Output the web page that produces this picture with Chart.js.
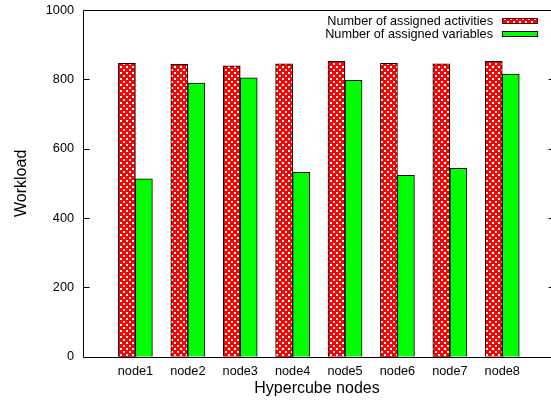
<!DOCTYPE html>
<html><head><meta charset="utf-8">
<script src="https://cdn.jsdelivr.net/npm/chart.js@4/dist/chart.umd.min.js"></script>
<style>html,body{margin:0;padding:0;overflow:hidden;background:#fff;width:551px;height:400px}canvas{display:block}</style>
</head><body>
<canvas id="c" width="551" height="400"></canvas>
<script>
const categories = ['node1','node2','node3','node4','node5','node6','node7','node8'];
const activities = [846, 843, 839, 845, 852, 846, 845, 852];
const variables  = [513, 789, 804, 532, 797, 523, 543, 815];
const yTicks = [0, 200, 400, 600, 800, 1000];
const seriesNames = ['Number of assigned activities', 'Number of assigned variables'];
const xTitle = 'Hypercube nodes';
const yTitle = 'Workload';

function makePattern() {
  const c = document.createElement('canvas');
  c.width = 6; c.height = 6;
  const g = c.getContext('2d');
  g.fillStyle = '#ff0000'; g.fillRect(0, 0, 6, 6);
  g.fillStyle = '#ffffff'; g.fillRect(0, 0, 2, 2); g.fillRect(3, 3, 2, 2);
  return g.createPattern(c, 'repeat');
}
const redPattern = makePattern();
const green = '#00ff00';
const FONT = 'Liberation Sans, Arial, Helvetica, sans-serif';

const framePlugin = {
  id: 'frame',
  afterDraw(chart) {
    const {ctx, chartArea: a, scales: {x, y}} = chart;
    ctx.save();
    ctx.strokeStyle = '#000';
    ctx.lineWidth = 1;
    const L = Math.round(a.left) + 0.5;
    const R = x.getPixelForValue(9);
    const W = chart.width;
    const T = Math.round(a.top) + 0.5, B = Math.round(a.bottom) + 0.5;
    ctx.beginPath();
    ctx.moveTo(W, T); ctx.lineTo(L, T); ctx.lineTo(L, B); ctx.lineTo(W, B);
    yTicks.forEach(v => {
      const py = Math.round(y.getPixelForValue(v)) + 0.5;
      ctx.moveTo(L, py); ctx.lineTo(L + 6, py);
      ctx.moveTo(R - 6, py); ctx.lineTo(W, py);
    });
    ctx.stroke();
    // legend
    ctx.font = '12.7px ' + FONT;
    ctx.textAlign = 'right';
    ctx.textBaseline = 'middle';
    const rows = [21, 34];
    chart.data.datasets.forEach((ds, i) => {
      ctx.fillStyle = '#000';
      ctx.fillText(ds.label, 493, rows[i]);
      ctx.fillStyle = ds.backgroundColor;
      ctx.fillRect(502, rows[i] - 3, 36, 6);
      ctx.strokeStyle = i === 0 ? '#600000' : '#000';
      ctx.strokeRect(502.5, rows[i] - 3 + 0.5, 35, 5);
    });
    ctx.restore();
  }
};

new Chart(document.getElementById('c'), {
  type: 'bar',
  data: {
    datasets: [
      { label: seriesNames[0], data: activities.map((v, i) => ({x: i + 1, y: v})),
        backgroundColor: redPattern, borderColor: '#000', borderWidth: 1, barThickness: 17 },
      { label: seriesNames[1], data: variables.map((v, i) => ({x: i + 1, y: v})),
        backgroundColor: green, borderColor: '#000', borderWidth: 1, barThickness: 17 }
    ]
  },
  options: {
    responsive: false,
    animation: false,
    devicePixelRatio: 1,
    layout: { padding: { top: 10, right: 0, left: 0, bottom: 0 } },
    plugins: { legend: { display: false }, tooltip: { enabled: false } },
    scales: {
      x: {
        type: 'linear', min: 0, max: 8.93, offset: false,
        grid: { display: false, drawTicks: false },
        border: { display: false },
        afterBuildTicks: s => { s.ticks = categories.map((c, i) => ({value: i + 1})); },
        afterFit: s => { s.height = 43.3; s.paddingLeft = 0; s.paddingRight = 0; },
        ticks: { autoSkip: false, maxRotation: 0, padding: 7, color: '#000',
                 font: { family: FONT, size: 12.7 },
                 callback: v => categories[v - 1] || '' },
        title: { display: true, text: xTitle, color: '#000',
                 font: { family: FONT, size: 16 }, padding: { top: 0, bottom: 1.4 } }
      },
      y: {
        min: 0, max: 1000,
        grid: { display: false, drawTicks: false },
        border: { display: false },
        afterBuildTicks: s => { s.ticks = yTicks.map(v => ({value: v})); },
        afterFit: s => { s.width = 83; s.paddingTop = 0; s.paddingBottom = 0; },
        ticks: { padding: 9, color: '#000', font: { family: FONT, size: 12.7 },
                 callback: v => String(v) },
        title: { display: true, text: yTitle, color: '#000',
                 font: { family: FONT, size: 16 }, padding: { top: 12, bottom: 0 } }
      }
    }
  },
  plugins: [framePlugin]
});
</script>
</body></html>
